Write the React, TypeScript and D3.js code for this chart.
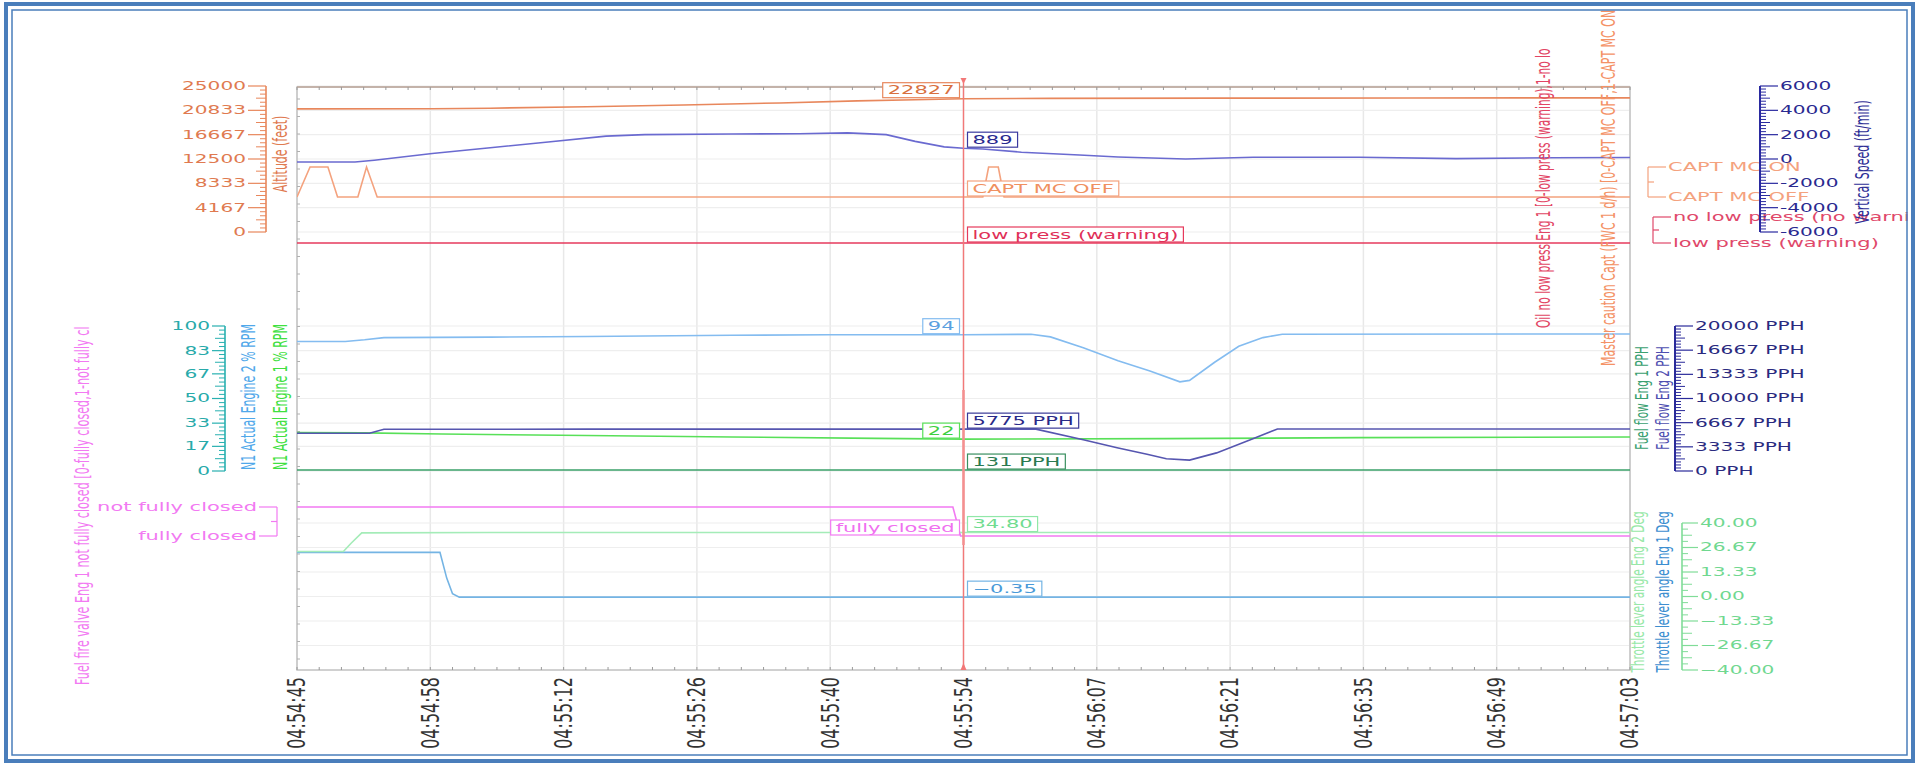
import React, { useEffect, useRef } from 'react';
import * as d3 from 'd3';

// ---------- data ----------
const xTickLabels = ['04:54:45', '04:54:58', '04:55:12', '04:55:26', '04:55:40', '04:55:54', '04:56:07', '04:56:21', '04:56:35', '04:56:49', '04:57:03'];
const timeSpanSec = 138;
const cursorSec = 69;

const altitudeFt: [number, number][] = [[0, 21090], [14, 21100], [20, 21200], [30, 21450], [40, 21750], [50, 22100], [58, 22450], [64, 22650], [69, 22827], [78, 22880], [95, 22920], [115, 22950], [138, 22970]];
const verticalSpeed: [number, number][] = [[0, -250], [6, -250], [8, -100], [14, 450], [20, 920], [26, 1400], [32, 1880], [36, 2000], [45, 2050], [52, 2080], [57, 2150], [61, 2000], [64, 1450], [67, 1000], [69, 889], [71, 820], [75, 560], [81, 330], [85, 170], [92, 0], [99, 150], [110, 150], [120, 30], [130, 100], [138, 120]];
const mcCapt: [number, number][] = [[0, 0], [1.35, 1], [3.2, 1], [4.2, 0], [6.3, 0], [7.2, 1], [8.3, 0], [69, 0], [71, 0], [71.6, 1], [72.6, 1], [73.2, 0], [138, 0]];
const oilLowPress: [number, number][] = [[0, 0], [69, 0], [138, 0]];
const n1Eng2: [number, number][] = [[0, 89.3], [5, 89.3], [7, 90.5], [9, 92], [20, 92.3], [30, 92.8], [45, 93.6], [55, 94], [69, 94], [76, 94.3], [78, 92.5], [81.4, 85], [85, 76], [88.3, 69], [91.4, 61.5], [92.4, 62.5], [95, 75], [97.5, 86], [100, 92], [102, 94.3], [138, 94.5]];
const n1Eng1: [number, number][] = [[0, 26.5], [7, 26.3], [15, 25.5], [30, 24.5], [45, 23.5], [60, 22.5], [69, 22], [90, 22.3], [110, 23], [138, 23.5]];
const ffEng2: [number, number][] = [[0, 5200], [7.5, 5200], [9, 5750], [30, 5780], [69, 5775], [76.5, 5775], [81.4, 4300], [84.9, 3200], [88, 2300], [90, 1700], [92.4, 1500], [95.2, 2500], [98.7, 4300], [101.5, 5800], [138, 5800]];
const ffEng1: [number, number][] = [[0, 131], [69, 131], [138, 131]];
const fuelValve: [number, number][] = [[0, 1], [67.9, 1], [68.7, 0], [69, 0], [138, 0]];
const tlaEng2: [number, number][] = [[0, 24.5], [4.8, 24.5], [5.6, 29], [6.7, 34.6], [20, 34.8], [69, 34.8], [138, 34.8]];
const tlaEng1: [number, number][] = [[0, 24], [14.8, 24], [15.5, 10], [16.1, 1.5], [16.8, -0.35], [69, -0.35], [138, -0.35]];

const altTicks = [0, 4167, 8333, 12500, 16667, 20833, 25000];
const vsTicks = [-6000, -4000, -2000, 0, 2000, 4000, 6000];
const n1Ticks = [0, 17, 33, 50, 67, 83, 100];
const ffTicks = [0, 3333, 6667, 10000, 13333, 16667, 20000];
const tlaTicks = [-40, -26.67, -13.33, 0, 13.33, 26.67, 40];
const mcStates = ['CAPT MC OFF', 'CAPT MC ON'];
const oilStates = ['low press (warning)', 'no low press (no warning)'];
const valveStates = ['fully closed', 'not fully closed'];

const FONT = 'DejaVu Sans';
const SX = 1.75;

function valueAt(series: [number, number][], t: number) {
  const p = series.find(d => d[0] === t);
  return p ? p[1] : 0;
}

function draw(el: SVGSVGElement) {
  const svg = d3.select(el);
  svg.selectAll('*').remove();

  const defs = svg.append('defs');
  defs.append('clipPath').attr('id', 'frameClip').append('rect').attr('x', 12).attr('y', 10).attr('width', 1896).attr('height', 746);
  const PL = 297, PR = 1630, PT = 87, PB = 670;
  defs.append('clipPath').attr('id', 'plotClip').append('rect').attr('x', PL).attr('y', PT - 2).attr('width', PR - PL).attr('height', PB - PT + 2);

  svg.append('rect').attr('width', 1917).attr('height', 765).attr('fill', '#fff');
  const root = svg.append('g').attr('clip-path', 'url(#frameClip)');

  const x = d3.scaleLinear().domain([0, timeSpanSec]).range([PL, PR]);
  const yAlt = d3.scaleLinear().domain([0, 25000]).range([232, 86]);
  const yVS = d3.scaleLinear().domain([-6000, 6000]).range([232, 86]);
  const yMC = d3.scaleLinear().domain([0, 1]).range([197, 167]);
  const yOil = d3.scaleLinear().domain([0, 1]).range([243, 217]);
  const yN1 = d3.scaleLinear().domain([0, 100]).range([471, 326]);
  const yFF = d3.scaleLinear().domain([0, 20000]).range([471, 326]);
  const yValve = d3.scaleLinear().domain([0, 1]).range([536, 507]);
  const yTLA = d3.scaleLinear().domain([-40, 40]).range([670, 523]);

  const htext = (g: any, str: string, px: number, py: number, color: string, size = 12, anchor = 'start', sx = SX) =>
    g.append('text').attr('transform', `translate(${px},${py}) scale(${sx},1)`)
      .attr('text-anchor', anchor).attr('dominant-baseline', 'central')
      .attr('font-family', FONT).attr('font-size', size).attr('fill', color).text(str);
  const vtext = (g: any, str: string, px: number, py: number, color: string, size = 10.5, anchor = 'middle', sx = SX) =>
    g.append('text').attr('transform', `translate(${px},${py}) scale(${sx},1) rotate(-90)`)
      .attr('text-anchor', anchor).attr('dominant-baseline', 'central')
      .attr('font-family', FONT).attr('font-size', size).attr('fill', color).text(str);

  // grid
  const grid = root.append('g');
  xTickLabels.forEach((_, i) => {
    const xx = x((timeSpanSec / (xTickLabels.length - 1)) * i);
    grid.append('line').attr('x1', xx).attr('x2', xx).attr('y1', PT).attr('y2', PB).attr('stroke', '#e8e8e8').attr('stroke-width', 1.5);
  });
  const hgrid = (ticks: number[], sc: any) => ticks.forEach(t => {
    grid.append('line').attr('x1', PL).attr('x2', PR).attr('y1', sc(t)).attr('y2', sc(t)).attr('stroke', '#eeeeee').attr('stroke-width', 1.2);
  });
  hgrid(altTicks, yAlt);
  hgrid(n1Ticks, yN1);
  hgrid(tlaTicks, yTLA);

  // plot border with minor ticks
  const border = root.append('g');
  border.append('rect').attr('x', PL).attr('y', PT).attr('width', PR - PL).attr('height', PB - PT)
    .attr('fill', 'none').attr('stroke', '#c4c4c4').attr('stroke-width', 1.5);
  border.append('line').attr('x1', PL).attr('x2', PR).attr('y1', PT).attr('y2', PT).attr('stroke', '#bfa89c').attr('stroke-width', 1.5);
  const nSub = (xTickLabels.length - 1) * 6;
  for (let i = 0; i <= nSub; i++) {
    const xx = PL + (PR - PL) * i / nSub;
    border.append('line').attr('x1', xx).attr('x2', xx).attr('y1', PT).attr('y2', PT + 3).attr('stroke', '#9a9a9a');
    border.append('line').attr('x1', xx).attr('x2', xx).attr('y1', PB).attr('y2', PB - 3).attr('stroke', '#9a9a9a');
  }
  for (let yy = PT + 12; yy < PB; yy += 17.5) {
    border.append('line').attr('x1', PL).attr('x2', PL + 3).attr('y1', yy).attr('y2', yy).attr('stroke', '#b0b0b0');
  }

  // series
  const plot = root.append('g').attr('clip-path', 'url(#plotClip)');
  const drawSeries = (data: [number, number][], sc: any, color: string, w = 1.6) => {
    const line = d3.line<[number, number]>().x(d => x(d[0])).y(d => sc(d[1]));
    plot.append('path').attr('d', line(data)).attr('fill', 'none').attr('stroke', color).attr('stroke-width', w);
  };
  drawSeries(altitudeFt, yAlt, '#e8875c');
  drawSeries(mcCapt, yMC, '#f4a27e');
  drawSeries(oilLowPress, yOil, '#e63a5c');
  drawSeries(verticalSpeed, yVS, '#6a6ad0');
  drawSeries(ffEng1, yFF, '#3aa068');
  drawSeries(n1Eng1, yN1, '#58e058');
  drawSeries(ffEng2, yFF, '#5656b0');
  drawSeries(n1Eng2, yN1, '#84bcf0');
  drawSeries(tlaEng1, yTLA, '#74b4e4');
  drawSeries(fuelValve, yValve, '#f27af2');
  drawSeries(tlaEng2, yTLA, '#a4ecb8');

  // in-plot rotated titles
  vtext(root, 'Oil no low press Eng 1 [0-low press (warning),1-no lo', 1544, 328, '#e24464', 10.6, 'start');
  vtext(root, 'Master caution Capt (FWC 1 d/h) [0-CAPT MC OFF,1-CAPT MC ON]', 1608, 366, '#f49266', 11, 'start');

  // cursor
  const cx = x(cursorSec);
  root.append('line').attr('x1', cx).attr('x2', cx).attr('y1', 80).attr('y2', PB).attr('stroke', '#f27878').attr('stroke-width', 1.4);
  root.append('line').attr('x1', cx).attr('x2', cx).attr('y1', 390).attr('y2', 545).attr('stroke', '#f49090').attr('stroke-width', 2.5);
  root.append('path').attr('d', `M${cx - 3},${PB}L${cx + 3},${PB}L${cx},${PB - 7}Z`).attr('fill', '#f27878');
  root.append('path').attr('d', `M${cx - 3},78L${cx + 3},78L${cx},84Z`).attr('fill', '#f27878');

  // cursor value boxes
  const labelBox = (str: string, side: 'left' | 'right', lineY: number, color: string, textColor: string) => {
    const g = root.append('g');
    const rect = g.append('rect');
    const t = htext(g, str, 0, lineY - 8.5, textColor, 12, 'start');
    const w = (t.node() as SVGTextElement).getComputedTextLength() * SX;
    const pad = 5;
    const bx = side === 'left' ? cx - 4 - w - 2 * pad : cx + 4;
    t.attr('transform', `translate(${bx + pad},${lineY - 8.5}) scale(${SX},1)`);
    rect.attr('x', bx).attr('y', lineY - 16).attr('width', w + 2 * pad).attr('height', 15)
      .attr('fill', '#fff').attr('stroke', color).attr('stroke-width', 1.2);
  };
  const altV = valueAt(altitudeFt, cursorSec);
  labelBox(d3.format('d')(altV), 'left', yAlt(altV), '#e8875c', '#d8703f');
  const vsV = valueAt(verticalSpeed, cursorSec);
  labelBox(d3.format('d')(vsV), 'right', yVS(vsV), '#3a3aa0', '#2a2a90');
  const mcV = valueAt(mcCapt, cursorSec);
  labelBox(mcStates[mcV], 'right', yMC(mcV), '#f4a27e', '#f09060');
  const oilV = valueAt(oilLowPress, cursorSec);
  labelBox(oilStates[oilV], 'right', yOil(oilV), '#e63a5c', '#e03058');
  const n2V = valueAt(n1Eng2, cursorSec);
  labelBox(d3.format('d')(n2V), 'left', yN1(n2V), '#84bcf0', '#5aa0e0');
  const n1V = valueAt(n1Eng1, cursorSec);
  labelBox(d3.format('d')(n1V), 'left', yN1(n1V), '#58e058', '#40d040');
  const f2V = valueAt(ffEng2, cursorSec);
  labelBox(`${f2V} PPH`, 'right', yFF(f2V), '#3a3a98', '#2a2a88');
  const f1V = valueAt(ffEng1, cursorSec);
  labelBox(`${f1V} PPH`, 'right', yFF(f1V), '#3a9060', '#2a7a50');
  const vV = valueAt(fuelValve, cursorSec);
  labelBox(valveStates[vV], 'left', yValve(vV), '#f27af2', '#f070f0');
  const t2V = valueAt(tlaEng2, cursorSec);
  labelBox(d3.format('.2f')(t2V), 'right', yTLA(t2V), '#90e8a8', '#70dc90');
  const t1V = valueAt(tlaEng1, cursorSec);
  labelBox(d3.format('.2f')(t1V), 'right', yTLA(t1V), '#74b4e4', '#4a9ad8');

  // x axis labels
  xTickLabels.forEach((lab, i) => {
    const xx = x((timeSpanSec / (xTickLabels.length - 1)) * i);
    vtext(root, lab, xx, 677, '#333333', 16, 'end', 1.55);
  });

  // generic vertical axis
  const vAxis = (ax: number, sc: any, ticks: number[], labels: string[], lineColor: string, textColor: string,
    side: 'left' | 'right', sub: number, majorLen: number, size = 11.5, lw = 1.6) => {
    const g = root.append('g');
    const dir = side === 'left' ? -1 : 1;
    const ys = ticks.map(t => sc(t));
    g.append('line').attr('x1', ax).attr('x2', ax).attr('y1', d3.min(ys)!).attr('y2', d3.max(ys)!).attr('stroke', lineColor).attr('stroke-width', lw);
    ticks.forEach((t, i) => {
      const yy = sc(t);
      g.append('line').attr('x1', ax).attr('x2', ax + dir * majorLen).attr('y1', yy).attr('y2', yy).attr('stroke', lineColor).attr('stroke-width', 1.2);
      htext(g, labels[i], ax + dir * (majorLen + 2), yy, textColor, size, side === 'left' ? 'end' : 'start');
      if (i < ticks.length - 1) {
        const y2 = sc(ticks[i + 1]);
        for (let k = 1; k < sub; k++) {
          const my = yy + (y2 - yy) * k / sub;
          g.append('line').attr('x1', ax).attr('x2', ax + dir * (k === sub / 2 ? 10 : 6)).attr('y1', my).attr('y2', my).attr('stroke', lineColor).attr('stroke-width', 1);
        }
      }
    });
  };

  // legends (discrete)
  const bracket = (bx: number, y1: number, y2: number, color: string, side: 'left' | 'right', labels: string[]) => {
    const g = root.append('g');
    const dir = side === 'left' ? -1 : 1;
    g.append('line').attr('x1', bx).attr('x2', bx).attr('y1', y1).attr('y2', y2).attr('stroke', color).attr('stroke-width', 1.2);
    [y1, y2].forEach((yy, i) => {
      g.append('line').attr('x1', bx).attr('x2', bx + dir * 18).attr('y1', yy).attr('y2', yy).attr('stroke', color).attr('stroke-width', 1.2);
      htext(g, labels[i], bx + dir * 20, yy, color, 12, side === 'left' ? 'end' : 'start');
    });
    g.append('line').attr('x1', bx).attr('x2', bx + dir * 6).attr('y1', (y1 + y2) / 2).attr('y2', (y1 + y2) / 2).attr('stroke', color).attr('stroke-width', 1.2);
  };
  bracket(1648, yMC(1), yMC(0), '#f4a27e', 'right', [mcStates[1], mcStates[0]]);
  bracket(1653, yOil(1), yOil(0), '#e0486a', 'right', [oilStates[1], oilStates[0]]);
  bracket(277, yValve(1), yValve(0), '#f27af2', 'left', [valveStates[1], valveStates[0]]);

  // axes
  vAxis(266, yAlt, altTicks, altTicks.map(String), '#e8875c', '#e07a50', 'left', 6, 18);
  vAxis(1760, yVS, vsTicks, vsTicks.map(String), '#2a2aa0', '#2a2a90', 'right', 8, 18, 11.5, 2);
  vAxis(225, yN1, n1Ticks, n1Ticks.map(String), '#28b0b0', '#28aaaa', 'left', 6, 13);
  vAxis(1675, yFF, ffTicks, ffTicks.map(t => `${t} PPH`), '#2a2a9a', '#2a2a80', 'right', 8, 18, 11.5, 2);
  vAxis(1682, yTLA, tlaTicks, tlaTicks.map(t => d3.format('.2f')(t)), '#80dc98', '#70d890', 'right', 4, 16);

  // axis titles
  vtext(root, 'Altitude (feet)', 280, 154, '#e07a50', 11);
  vtext(root, 'Vertical Speed (ft/min)', 1862, 162, '#2e2e96', 11);
  vtext(root, 'N1 Actual Engine 2 % RPM', 248, 397, '#50a8ea', 11);
  vtext(root, 'N1 Actual Engine 1 % RPM', 280, 397, '#40e040', 11);
  vtext(root, 'Fuel flow Eng 1 PPH', 1642, 398, '#3aa070', 10.5);
  vtext(root, 'Fuel flow Eng 2 PPH', 1663, 398, '#4e4eb0', 10.5);
  vtext(root, 'Throttle lever angle Eng 2 Deg', 1638, 592, '#98e8a8', 10.5);
  vtext(root, 'Throttle lever angle Eng 1 Deg', 1663, 592, '#3c8ed0', 10.5);
  vtext(root, 'Fuel fire valve Eng 1 not fully closed [0-fully closed,1-not fully cl', 82, 685, '#f27af2', 11.2, 'start');

  // frame
  svg.append('rect').attr('x', 6).attr('y', 4).attr('width', 1907).attr('height', 757)
    .attr('fill', 'none').attr('stroke', '#4a7ebb').attr('stroke-width', 4);
  svg.append('rect').attr('x', 12).attr('y', 10).attr('width', 1895).attr('height', 745)
    .attr('fill', 'none').attr('stroke', '#4a7ebb').attr('stroke-width', 1.5);
}

export default function App() {
  const ref = useRef<SVGSVGElement>(null);
  useEffect(() => {
    if (ref.current) draw(ref.current);
  }, []);
  return (
    <svg ref={ref} width={1917} height={765}
      style={{ position: 'absolute', left: 0, top: 0, display: 'block', background: '#fff' }} />
  );
}
